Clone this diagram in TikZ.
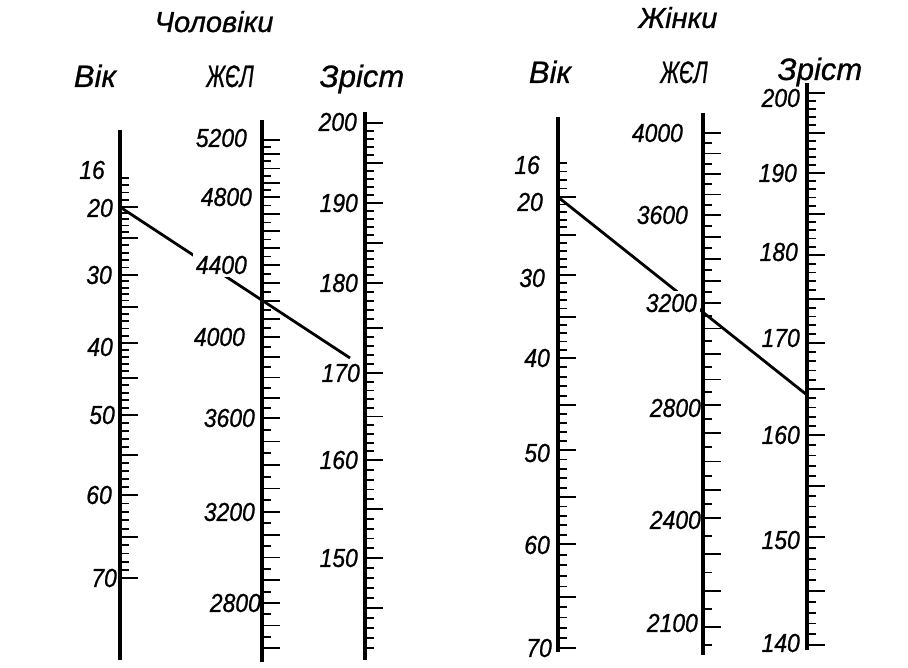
\documentclass[tikz,border=0pt]{standalone}
\usepackage{fontspec}
\setmainfont{Liberation Sans}[FakeBold=0.8]
\newfontfamily\handfont{Liberation Sans}[FakeStretch=0.88, FakeBold=0.8]
\newfontfamily\narrowfont{Liberation Sans}[FakeStretch=0.66, FakeBold=0.8]
\usepackage{xcolor}
\usepackage{tikz}
\usetikzlibrary{positioning, calc}

% ticks of one nomogram scale: x, step, long every, list of va/ya/vb/yb
\newcommand{\nomoticks}[4]{%
  \foreach \va/\ya/\vb/\yb in {#4}{%
    \pgfmathtruncatemacro{\nst}{round(abs(\vb-\va)/#2)}
    \foreach \k in {0,...,\nst}{%
      \pgfmathsetmacro{\yy}{\ya+(\yb-\ya)*\k/\nst}
      \pgfmathtruncatemacro{\vv}{round(\va+(\vb-\va)*\k/\nst)}
      \pgfmathsetmacro{\len}{mod(\vv,#3)==0 ? 18 : 9}
      \draw[tick] (#1,\yy) -- ++(\len,0);
    }
  }
}

\begin{document}
\begin{tikzpicture}[x=1pt, y=-1pt,
  axis/.style={line width=3.2pt},
  tick/.style={line width=1.8pt},
  key/.style={line width=2.8pt},
  num/.style={anchor=east, inner sep=0pt, font={\handfont\itshape\fontsize{26}{26}\selectfont}},
  gap/.style={fill=white, inner sep=3pt, xshift=3pt},
  head/.style={anchor=base, inner sep=0pt, font={\itshape\fontsize{31}{31}\selectfont}},
  abbr/.style={anchor=base, inner sep=0pt, font={\narrowfont\itshape\fontsize{31}{31}\selectfont}},
  title/.style={anchor=base, inner sep=0pt, font={\itshape\fontsize{29}{29}\selectfont}}
]
\useasboundingbox (0,0) rectangle (908,668);

\node[title] (men) at (214,32) {Чоловіки};
\node[title] (women) at (678,28) {Жінки};
\node[head] (m-vik) at (95,87) {Вік};
\node[abbr] (m-zhel) at (230,87) {ЖЄЛ};
\node[head] (m-zrist) at (362,87) {Зріст};
\node[head] (w-vik) at (550,83) {Вік};
\node[abbr] (w-zhel) at (684,83) {ЖЄЛ};
\node[head] (w-zrist) at (820,80) {Зріст};

\draw[axis] (120,130) -- (120,660);
\draw[axis] (262,120) -- (262,662);
\draw[axis] (365,112) -- (365,660);
\draw[axis] (558,117) -- (558,652);
\draw[axis] (703,113) -- (703,655);
\draw[axis] (807,83) -- (807,650);

\nomoticks{120}{1}{5}{16/178/20/207, 20/207/25/238, 25/238/30/275, 30/275/35/307,
  35/307/40/343, 40/343/45/378, 45/378/50/415, 50/415/55/455, 55/455/60/495,
  60/495/65/537, 65/537/70/578}
\nomoticks{262}{50}{100}{5200/140/4800/197, 4800/197/4400/265, 4400/265/4000/337,
  4000/337/3600/418, 3600/418/3200/512, 3200/512/2800/603, 2800/603/2600/648}
\nomoticks{365}{1}{5}{200/123/190/203, 190/203/180/283, 180/283/170/373,
  170/373/160/460, 160/460/150/558, 150/558/141/648}
\nomoticks{558}{1}{5}{16/163/20/197, 20/197/25/235, 25/235/30/275, 30/275/35/317,
  35/317/40/358, 40/358/45/405, 45/405/50/450, 50/450/55/497, 55/497/60/544,
  60/544/65/597, 65/597/70/648}
\nomoticks{703}{50}{100}{4000/133/3600/215, 3600/215/3200/303, 3200/303/2800/405,
  2800/405/2400/518, 2400/518/2100/627, 2100/627/2050/645}
\nomoticks{807}{1}{5}{200/93/190/173, 190/173/180/255, 180/255/170/343,
  170/343/160/435, 160/435/150/537, 150/537/140/645}

\coordinate (m-start) at (120,207);
\coordinate (m-end) at (350,358);
\coordinate (w-start) at (558,197);
\coordinate (w-end) at (807,395);
\draw[key] (m-start) -- (m-end);
\draw[key] (w-start) -- (w-end);

\foreach \v/\y/\x in {16/170/105, 20/208/113, 30/275/112, 40/347/113, 50/415/115, 60/495/112, 70/578/117}
  \node[num] (mv\v) at (\x,\y) {\v};
\foreach \v/\y/\x in {5200/138/247, 4800/197/252, 4000/337/245, 3600/418/255, 3200/512/255, 2800/603/261}
  \node[num] (mz\v) at (\x,\y) {\v};
\node[num, gap] (mz4400) at (247,265) {4400};
\foreach \v/\y/\x in {200/122/357, 190/203/358, 180/283/358, 170/373/360, 160/460/358, 150/558/358}
  \node[num] (mh\v) at (\x,\y) {\v};
\foreach \v/\y/\x in {16/165/540, 20/202/543, 30/278/545, 40/358/550, 50/453/550, 60/545/550, 70/648/552}
  \node[num] (wv\v) at (\x,\y) {\v};
\foreach \v/\y/\x in {4000/133/683, 3600/215/688, 2800/408/701, 2400/520/701, 2100/623/698}
  \node[num] (wz\v) at (\x,\y) {\v};
\node[num, gap] (wz3200) at (697,303) {3200};
\foreach \v/\y/\x in {200/98/800, 190/173/797, 180/252/798, 170/338/800, 160/435/800, 150/540/800, 140/643/800}
  \node[num] (wh\v) at (\x,\y) {\v};
\end{tikzpicture}
\end{document}
